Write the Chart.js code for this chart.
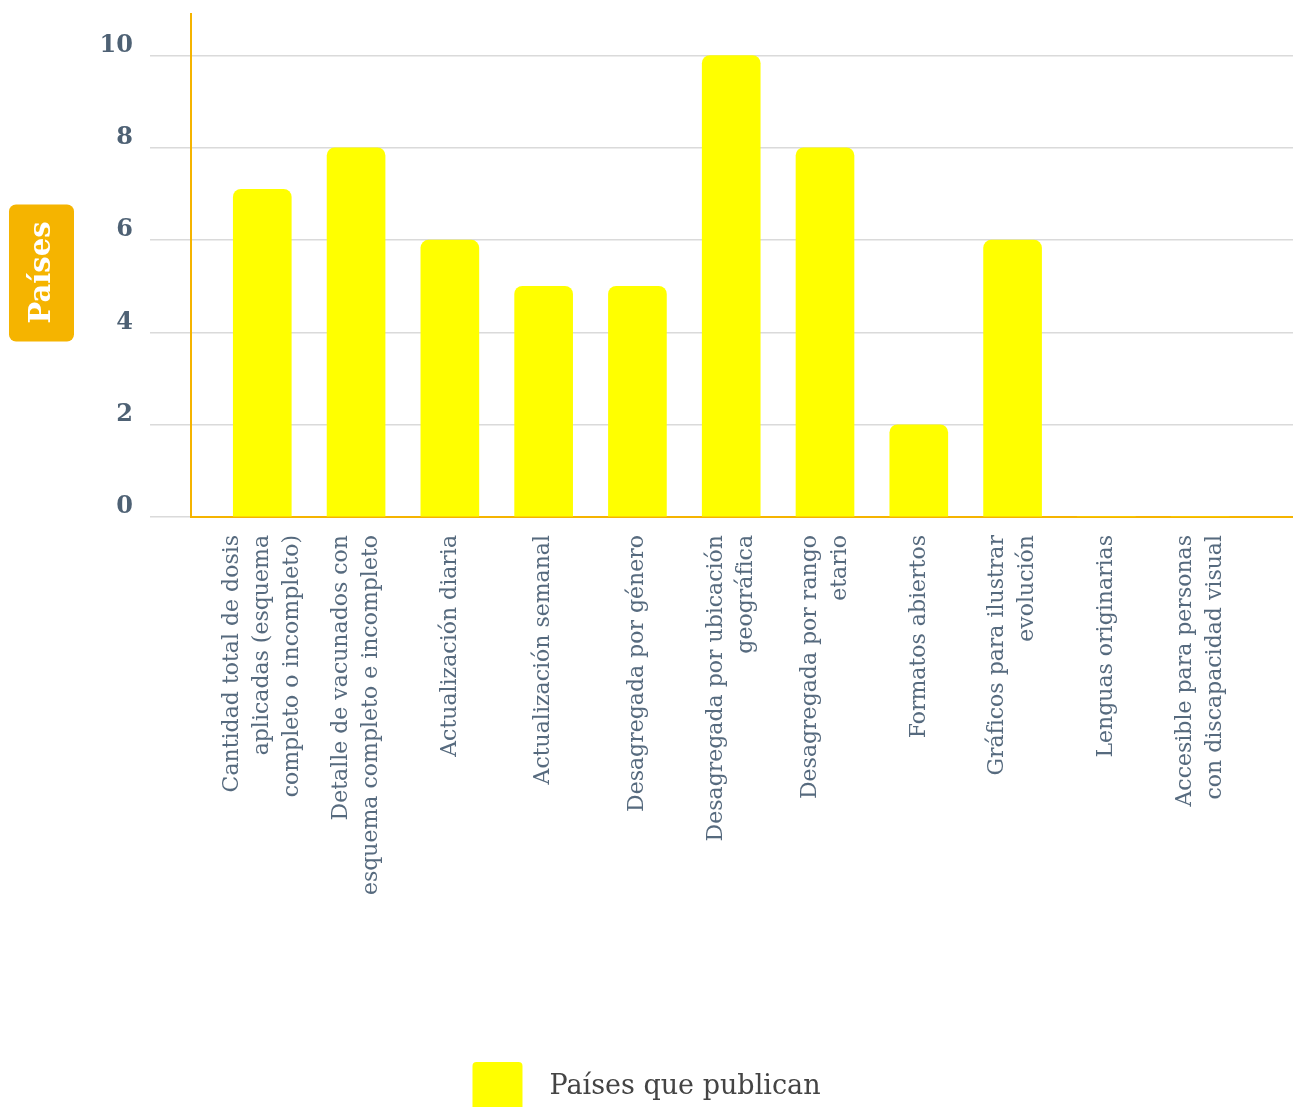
<!DOCTYPE html>
<html lang="es">
<head>
<meta charset="utf-8">
<title>Países que publican</title>
<script src="https://cdn.jsdelivr.net/npm/chart.js@4.4.1/dist/chart.umd.min.js"></script>
<style>
  html, body { margin: 0; padding: 0; background: #fff; overflow: hidden; }
  #wrap { width: 1293px; height: 1122px; }
</style>
</head>
<body>
<div id="wrap"><canvas id="publicChart"></canvas></div>
<script>
const categories = [
    ['Cantidad total de dosis', 'aplicadas (esquema', 'completo o incompleto)'],
    ['Detalle de vacunados con', 'esquema completo e incompleto'],
    'Actualización diaria',
    'Actualización semanal',
    'Desagregada por género',
    ['Desagregada por ubicación', 'geográfica'],
    ['Desagregada por rango', 'etario'],
    'Formatos abiertos',
    ['Gráficos para ilustrar', 'evolución'],
    'Lenguas originarias',
    ['Accesible para personas', 'con discapacidad visual']
];
const paisesQuePublican = [7.1, 8, 6, 5, 5, 10, 8, 2, 6, 0, 0];
const yTicks = [0, 2, 4, 6, 8, 10];

const SERIF = '"DejaVu Serif", "Liberation Serif", serif';
const ORANGE = '#f5b400';
const LABEL_SIZE = 22;
const LABEL_LINE = 30;

// orange badge with the y axis name
const yBadge = {
    id: 'yBadge',
    afterDraw(chart) {
        const c = chart.ctx;
        const mid = (chart.chartArea.top + chart.chartArea.bottom) / 2 + 7;
        c.save();
        c.fillStyle = ORANGE;
        c.beginPath();
        c.roundRect(9, mid - 68, 65, 137, 7);
        c.fill();
        c.translate(41.5, mid);
        c.rotate(-Math.PI / 2);
        c.fillStyle = '#ffffff';
        c.font = 'bold 29px ' + SERIF;
        c.textAlign = 'center';
        c.textBaseline = 'middle';
        c.fillText('Países', 0, 1);
        c.restore();
    }
};

// rotated multi-line labels stack to one side of the tick, so move the tick
// back by half the block to keep each label centred under its bar
function categoryTicks(s) {
    const pxPerUnit = s.width / (s.max - s.min);
    s.ticks = categories.map((lab, i) => {
        const lines = Array.isArray(lab) ? lab.length : 1;
        return { value: i - (lines - 1) * LABEL_LINE / 2 / pxPerUnit };
    });
}

const ctx = document.getElementById('publicChart').getContext('2d');
const chart = new Chart(ctx, {
    type: 'bar',
    data: {
        datasets: [{
            label: 'Países que publican',
            data: paisesQuePublican.map((v, i) => ({ x: i, y: v })),
            backgroundColor: '#ffff00',
            borderRadius: { topLeft: 8, topRight: 8 },
            borderSkipped: 'bottom',
            barThickness: 58
        }]
    },
    options: {
        responsive: true,
        maintainAspectRatio: false,
        animation: false,
        layout: { padding: { top: 14, right: 0, left: 0, bottom: 0 } },
        scales: {
            x: {
                type: 'linear',
                offset: false,
                min: -0.76,
                max: 10.99,
                afterBuildTicks: categoryTicks,
                afterFit: s => { s.height = 535; },
                grid: { display: false, drawTicks: false, offset: false },
                border: { color: ORANGE, width: 2 },
                ticks: {
                    autoSkip: false,
                    maxRotation: 90,
                    minRotation: 90,
                    padding: 18,
                    color: '#566a7e',
                    font: { family: SERIF, size: LABEL_SIZE, lineHeight: LABEL_LINE / LABEL_SIZE },
                    callback: (v, i) => categories[i]
                }
            },
            y: {
                min: 0,
                max: 10.9,
                afterBuildTicks: s => { s.ticks = yTicks.map(v => ({ value: v })); },
                afterFit: s => { s.width = 191; s.paddingTop = 0; s.paddingBottom = 0; },
                grid: { color: '#dadada', lineWidth: 1.5, tickLength: 41, tickColor: '#dadada' },
                border: { color: ORANGE, width: 2 },
                ticks: {
                    padding: 17,
                    labelOffset: -10,
                    color: '#4e6174',
                    font: { family: SERIF, size: 24, weight: 'bold' }
                }
            }
        },
        plugins: {
            legend: {
                position: 'bottom',
                labels: {
                    boxWidth: 50,
                    boxHeight: 50,
                    padding: 10,
                    useBorderRadius: true,
                    borderRadius: 4,
                    color: '#444444',
                    font: { family: SERIF, size: 27 },
                    // a little more room between the swatch and its text
                    generateLabels: ch => Chart.defaults.plugins.legend.labels.generateLabels(ch)
                        .map(item => Object.assign(item, { text: '\u2002' + item.text }))
                }
            },
            tooltip: { enabled: false }
        }
    },
    plugins: [yBadge]
});
</script>
</body>
</html>
